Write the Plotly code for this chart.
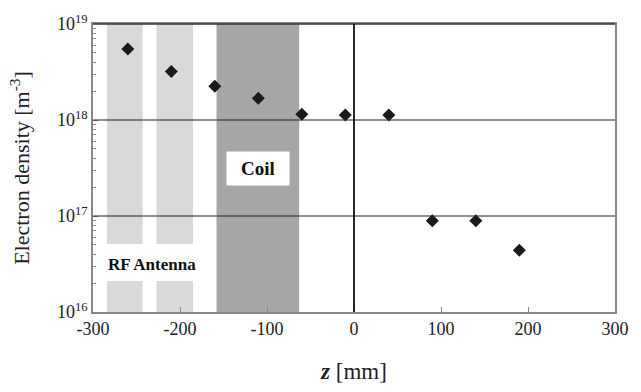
import plotly.graph_objects as go

z_mm = [-260, -210, -160, -110, -60, -10, 40, 90, 140, 190]
density = [5.5e18, 3.2e18, 2.25e18, 1.68e18, 1.15e18, 1.13e18, 1.13e18, 8.9e16, 8.9e16, 4.4e16]

antenna_ranges = [(-284, -243), (-227, -185)]
antenna_gap = (2.1e16, 5.1e16)
coil_range = (-158, -63)
y_tickvals = [1e16, 1e17, 1e18, 1e19]
y_ticktext = ["10<sup>16</sup>", "10<sup>17</sup>", "10<sup>18</sup>", "10<sup>19</sup>"]
y_minor = [m * 10 ** d for d in (16, 17, 18) for m in range(2, 10)]
x_tickvals = [-300, -200, -100, 0, 100, 200, 300]

FONT = "Times New Roman, Liberation Serif, serif"

fig = go.Figure()

shapes = []
for x0, x1 in antenna_ranges:
    shapes.append(dict(type="rect", xref="x", yref="y", x0=x0, x1=x1,
                       y0=antenna_gap[1], y1=1e19, fillcolor="#d9d9d9",
                       line=dict(width=0), layer="below"))
    shapes.append(dict(type="rect", xref="x", yref="y", x0=x0, x1=x1,
                       y0=1e16, y1=antenna_gap[0], fillcolor="#d9d9d9",
                       line=dict(width=0), layer="below"))
shapes.append(dict(type="rect", xref="x", yref="y", x0=coil_range[0], x1=coil_range[1],
                   y0=1e16, y1=1e19, fillcolor="#a6a6a6", line=dict(width=0), layer="below"))
for v in [1e17, 1e18]:
    shapes.append(dict(type="line", xref="paper", yref="y", x0=0, x1=1,
                       y0=v, y1=v, line=dict(color="#222", width=1.2)))
shapes.append(dict(type="line", xref="paper", yref="paper", x0=0, x1=1, y0=1, y1=1,
                   line=dict(color="#333", width=1.5)))
shapes.append(dict(type="line", xref="x", yref="paper", x0=0, x1=0, y0=0, y1=1,
                   line=dict(color="#111", width=1.8)))

fig.add_trace(go.Scatter(x=z_mm, y=density, mode="markers",
                         marker=dict(symbol="diamond", size=10, color="#1a1a1a"),
                         showlegend=False))

fig.update_layout(
    width=641, height=392,
    margin=dict(l=93, r=18, t=21, b=80),
    plot_bgcolor="white", paper_bgcolor="white",
    shapes=shapes,
    font=dict(family=FONT, color="#222"),
    annotations=[
        dict(x=-232, y=16.5, xref="x", yref="y", text="<b>RF Antenna</b>",
             showarrow=False, font=dict(size=17, family=FONT, color="#111"),
             bgcolor="white"),
        dict(x=-110, y=17.5, xref="x", yref="y", text="<b>Coil</b>",
             showarrow=False, font=dict(size=19, family=FONT, color="#111"),
             bgcolor="white", borderpad=6, width=50),
    ],
)

fig.update_xaxes(range=[-300, 300], tickvals=x_tickvals,
                 ticktext=[str(v) for v in x_tickvals],
                 ticks="inside", ticklen=5, tickcolor="#888",
                 showline=True, linecolor="#888", linewidth=1.5, mirror=True,
                 showgrid=False, zeroline=False, ticklabeloverflow="allow",
                 tickfont=dict(size=18, family=FONT, color="#222"),
                 title=dict(text="<b><i>z</i></b> [mm]", font=dict(size=23, family=FONT, color="#222"),
                            standoff=25))
fig.update_yaxes(type="log", range=[16, 19], tickvals=y_tickvals, ticktext=y_ticktext,
                 ticks="inside", ticklen=5, tickcolor="#888",
                 minor=dict(tickvals=y_minor, ticks="inside", ticklen=3, tickcolor="#888",
                            showgrid=False),
                 showline=True, linecolor="#888", linewidth=1.5, mirror=True,
                 showgrid=False, zeroline=False,
                 tickfont=dict(size=18, family=FONT, color="#222"),
                 title=dict(text="Electron density [m<sup>-3</sup>]",
                            font=dict(size=22, family=FONT, color="#222"), standoff=21))

fig.write_html("out.html", config={"displayModeBar": False},
               post_script="document.body.style.margin='0';document.body.style.overflow='hidden';")
